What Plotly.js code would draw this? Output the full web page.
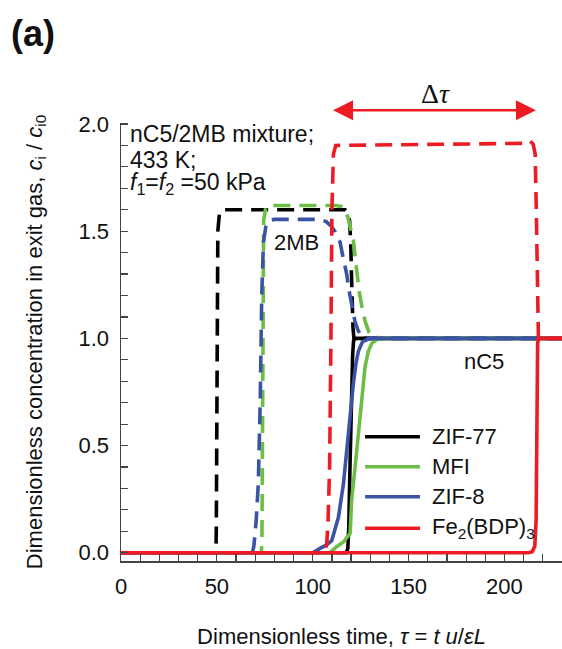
<!DOCTYPE html>
<html>
<head>
<meta charset="utf-8">
<script src="https://cdn.plot.ly/plotly-3.0.1.min.js"></script>
<style>html,body{margin:0;padding:0;background:#fff;}#chart{width:562px;height:649px;}</style>
</head>
<body>
<div id="chart"></div>
<script>
// ---- Data ----
const materials = ["ZIF-77", "MFI", "ZIF-8", "Fe<sub>2</sub>(BDP)<sub>3</sub>"];
const colors = ["#000000", "#6DBE45", "#3A53A4", "#ED1C24"];

// 2MB (dashed) breakthrough curves
const zif77_2mb_x = [0, 49.5, 49.7, 49.9, 50.1, 50.5, 51.3, 52.5, 117, 118.3, 119.2, 119.8, 120.2, 120.6, 121, 121.5, 230];
const zif77_2mb_y = [0, 0, 0.1, 0.6, 1.2, 1.5, 1.58, 1.6, 1.6, 1.59, 1.55, 1.45, 1.3, 1.15, 1.05, 1.0, 1.0];

const mfi_2mb_x = [0, 73.2, 73.5, 73.7, 73.9, 74.4, 75.5, 77, 112, 115, 117, 118.5, 119.8, 121.2, 122.1, 123, 124.2, 125.6, 127.3, 129.3, 131.6, 136, 230];
const mfi_2mb_y = [0, 0, 0.05, 0.5, 1.2, 1.55, 1.61, 1.62, 1.62, 1.615, 1.6, 1.56, 1.51, 1.46, 1.38, 1.30, 1.22, 1.15, 1.08, 1.03, 1.008, 1.0, 1.0];

const zif8_2mb_x = [0, 68.5, 69.3, 70.5, 71.6, 72.6, 73.4, 74.3, 75.5, 77, 80, 104, 107, 109.5, 111.5, 113, 114.2, 116, 117.7, 119, 120.3, 122, 123.5, 125, 127, 130, 230];
const zif8_2mb_y = [0, 0, 0.03, 0.15, 0.32, 0.7, 1.2, 1.45, 1.52, 1.55, 1.555, 1.555, 1.545, 1.525, 1.5, 1.47, 1.45, 1.37, 1.30, 1.22, 1.15, 1.08, 1.04, 1.015, 1.003, 1.0, 1.0];

const fe_2mb_x = [0, 105, 106.5, 107.3, 108, 108.8, 109.5, 110, 110.8, 112, 212, 213.5, 215, 216, 216.6, 217.0, 217.4, 217.7, 230];
const fe_2mb_y = [0, 0, 0.01, 0.04, 0.15, 0.4, 1.0, 1.6, 1.86, 1.9, 1.91, 1.92, 1.905, 1.86, 1.6, 1.3, 1.05, 1.0, 1.0];

// nC5 (solid) breakthrough curves
const zif77_nc5_x = [0, 117.5, 118.3, 118.8, 119.3, 119.8, 120.3, 120.8, 121.3, 122.5, 230];
const zif77_nc5_y = [0, 0, 0.02, 0.12, 0.35, 0.56, 0.75, 0.92, 0.99, 1.0, 1.0];

const mfi_nc5_x = [0, 109, 112.5, 116, 119.5, 120.3, 122.1, 123.8, 125.6, 127.3, 129, 130.8, 133.5, 138.6, 230];
const mfi_nc5_y = [0, 0, 0.028, 0.05, 0.09, 0.246, 0.40, 0.557, 0.71, 0.868, 0.94, 0.977, 0.995, 1.0, 1.0];

const zif8_nc5_x = [0, 100, 103.8, 107, 109.9, 113.4, 116, 117.7, 119.5, 121.2, 122.5, 123.8, 126, 129.9, 230];
const zif8_nc5_y = [0, 0, 0.02, 0.035, 0.056, 0.165, 0.32, 0.48, 0.63, 0.79, 0.88, 0.94, 0.985, 1.0, 1.0];

const fe_nc5_x = [0, 212.5, 214.5, 215.8, 216.5, 216.8, 217.0, 217.3, 218, 230];
const fe_nc5_y = [0, 0, 0.005, 0.03, 0.15, 0.5, 0.9, 0.98, 1.0, 1.0];

const xTickVals = [0, 50, 100, 150, 200];
const yTickVals = [0, 0.5, 1.0, 1.5, 2.0];
const yTickText = ["0.0", "0.5", "1.0", "1.5", "2.0"];

// ---- Traces ----
const dashedSeries = [[zif77_2mb_x, zif77_2mb_y], [mfi_2mb_x, mfi_2mb_y], [zif8_2mb_x, zif8_2mb_y], [fe_2mb_x, fe_2mb_y]];
const solidSeries = [[zif77_nc5_x, zif77_nc5_y], [mfi_nc5_x, mfi_nc5_y], [zif8_nc5_x, zif8_nc5_y], [fe_nc5_x, fe_nc5_y]];

const traces = [];
for (let i = 0; i < materials.length; i++) {
  traces.push({x: dashedSeries[i][0], y: dashedSeries[i][1], type: 'scatter', mode: 'lines',
    line: {color: colors[i], width: 3.6, dash: '17px,9px'}, showlegend: false, hoverinfo: 'skip'});
  traces.push({x: solidSeries[i][0], y: solidSeries[i][1], type: 'scatter', mode: 'lines',
    line: {color: colors[i], width: 3.6}, showlegend: false, hoverinfo: 'skip'});
}

const FONT = 'Liberation Sans, Arial, sans-serif';
const fs = 22;

// legend rows (drawn manually)
const legendY = [0.541, 0.401, 0.261, 0.114];
const shapes = [];
const annotations = [];
for (let i = 0; i < materials.length; i++) {
  shapes.push({type: 'line', xref: 'x', yref: 'y', x0: 127.3, x1: 155.9, y0: legendY[i], y1: legendY[i],
    line: {color: colors[i], width: 3.6}});
  annotations.push({xref: 'x', yref: 'y', x: 161.2, y: legendY[i], xanchor: 'left', yanchor: 'middle',
    text: materials[i], showarrow: false, font: {family: FONT, size: fs, color: '#111'}});
}

annotations.push(
  {xref: 'x', yref: 'y', x: 3.6, y: 1.952, xanchor: 'left', yanchor: 'middle', showarrow: false,
   text: 'nC5/2MB mixture;', font: {family: FONT, size: 23, color: '#111'}},
  {xref: 'x', yref: 'y', x: 3.6, y: 1.832, xanchor: 'left', yanchor: 'middle', showarrow: false,
   text: '433 K;', font: {family: FONT, size: 23, color: '#111'}},
  {xref: 'x', yref: 'y', x: 3.6, y: 1.722, xanchor: 'left', yanchor: 'middle', showarrow: false,
   text: '<i>f</i><sub>1</sub>=<i>f</i><sub>2</sub> =50 kPa', font: {family: FONT, size: 23, color: '#111'}},
  {xref: 'x', yref: 'y', x: 78.8, y: 1.445, xanchor: 'left', yanchor: 'middle', showarrow: false,
   text: '2MB', font: {family: FONT, size: fs, color: '#111'}},
  {xref: 'x', yref: 'y', x: 177.9, y: 0.89, xanchor: 'left', yanchor: 'middle', showarrow: false,
   text: 'nC5', font: {family: FONT, size: fs, color: '#111'}},
  {xref: 'paper', yref: 'paper', x: -0.255, y: 1.205, xanchor: 'left', yanchor: 'middle', showarrow: false,
   text: '<b>(a)</b>', font: {family: FONT, size: 36, color: '#111'}},
  {xref: 'x', yref: 'paper', x: 163.8, y: 1.068, xanchor: 'center', yanchor: 'middle', showarrow: false,
   text: 'Δ<i>τ</i>', font: {family: 'Liberation Serif, Times New Roman, serif', size: 28, color: '#111'}},
  {xref: 'x', yref: 'paper', x: 110.6, y: 1.029, axref: 'x', ax: 217.2, ayref: 'pixel', ay: 0,
   text: '', showarrow: true, arrowside: 'end+start', arrowhead: 2, arrowsize: 1.6, arrowwidth: 2.5,
   arrowcolor: '#ED1C24', standoff: 0, startstandoff: 0}
);

const layout = {
  width: 562, height: 649,
  margin: {l: 121, r: 0, t: 123, b: 88, pad: 0},
  paper_bgcolor: '#fff', plot_bgcolor: '#fff',
  showlegend: false,
  font: {family: FONT, size: fs, color: '#111'},
  xaxis: {
    range: [0, 230], tickmode: 'array', tickvals: xTickVals,
    ticks: 'inside', ticklen: 7, tickwidth: 1.2, tickcolor: '#444',
    minor: {dtick: 10, tick0: 0, ticks: 'inside', ticklen: 7, tickwidth: 1.2, tickcolor: '#444'},
    showline: true, linecolor: '#444', linewidth: 1.5, mirror: false,
    showgrid: false, zeroline: false,
    tickfont: {family: FONT, size: fs, color: '#111'}, ticklabelstandoff: 5,
    title: {text: 'Dimensionless time, <i>τ</i> = <i>t u</i>/<i>εL</i>', font: {family: FONT, size: fs, color: '#111'}, standoff: 31}
  },
  yaxis: {
    range: [-0.0387, 2.0047], tickmode: 'array', tickvals: yTickVals, ticktext: yTickText,
    ticks: 'inside', ticklen: 7, tickwidth: 1.2, tickcolor: '#444',
    minor: {dtick: 0.1, tick0: 0, ticks: 'inside', ticklen: 7, tickwidth: 1.2, tickcolor: '#444'},
    showline: true, linecolor: '#444', linewidth: 1.5, mirror: false,
    showgrid: false, zeroline: false,
    tickfont: {family: FONT, size: fs, color: '#111'}, ticklabelstandoff: 6,
    title: {text: 'Dimensionless concentration in exit gas, <i>c</i><sub>i</sub> / <i>c</i><sub>i0</sub>', font: {family: FONT, size: fs, color: '#111'}, standoff: 30}
  },
  shapes: shapes,
  annotations: annotations
};

Plotly.newPlot('chart', traces, layout, {staticPlot: true, displayModeBar: false});
</script>
</body>
</html>
